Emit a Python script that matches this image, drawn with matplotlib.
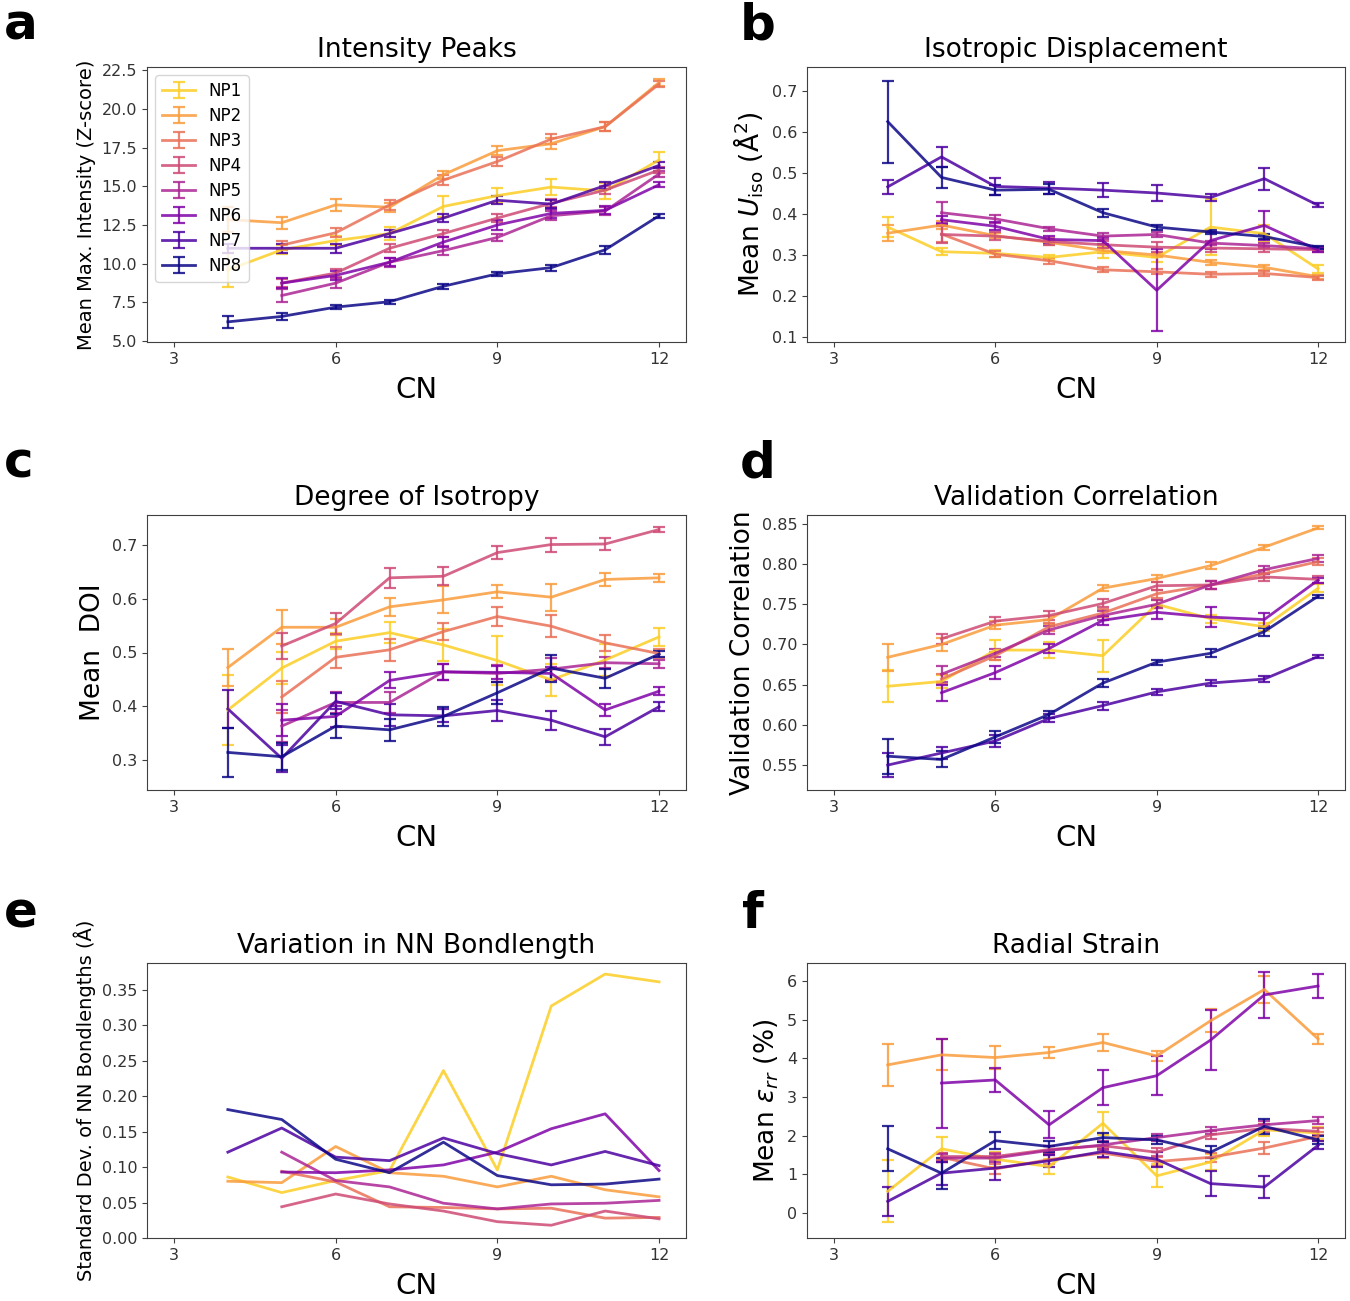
import numpy as np
import matplotlib
matplotlib.use("Agg")
import matplotlib.pyplot as plt

nan = np.nan
cn = [4, 5, 6, 7, 8, 9, 10, 11, 12]
labels = ["NP1", "NP2", "NP3", "NP4", "NP5", "NP6", "NP7", "NP8"]

# ---- a: Intensity Peaks ----
a_mean = [
    [9.6, 10.9, 11.5, 11.95, 13.7, 14.4, 14.95, 14.7, 16.7],
    [12.85, 12.65, 13.8, 13.65, 15.75, 17.3, 17.75, 18.85, 21.7],
    [nan, 11.2, 12.0, 13.8, 15.4, 16.6, 18.05, 18.85, 21.6],
    [nan, 8.75, 9.4, 11.0, 11.95, 12.95, 13.9, 14.75, 16.05],
    [nan, 7.95, 8.75, 10.1, 10.85, 11.7, 13.1, 13.4, 15.8],
    [nan, 8.75, 9.25, 10.1, 11.4, 12.5, 13.25, 13.45, 15.1],
    [11.0, 11.0, 11.0, 11.95, 12.95, 14.1, 13.85, 15.05, 16.35],
    [6.25, 6.6, 7.2, 7.55, 8.55, 9.35, 9.75, 10.9, 13.1],
]
a_err = [
    [1.1, 0.3, 0.3, 0.4, 0.65, 0.5, 0.5, 0.5, 0.5],
    [0.8, 0.4, 0.4, 0.3, 0.25, 0.3, 0.35, 0.3, 0.2],
    [nan, 0.3, 0.3, 0.3, 0.3, 0.3, 0.3, 0.3, 0.2],
    [nan, 0.25, 0.25, 0.25, 0.25, 0.25, 0.25, 0.25, 0.2],
    [nan, 0.4, 0.3, 0.3, 0.3, 0.25, 0.3, 0.25, 0.2],
    [nan, 0.3, 0.3, 0.25, 0.3, 0.3, 0.3, 0.25, 0.15],
    [0.3, 0.3, 0.3, 0.25, 0.25, 0.25, 0.25, 0.25, 0.2],
    [0.4, 0.25, 0.15, 0.12, 0.15, 0.15, 0.2, 0.25, 0.12],
]

# ---- b: Isotropic Displacement ----
b_mean = [
    [0.368, 0.308, 0.304, 0.294, 0.308, 0.294, 0.368, 0.352, 0.266],
    [0.353, 0.373, 0.347, 0.331, 0.311, 0.300, 0.282, 0.270, 0.247],
    [nan, 0.351, 0.302, 0.286, 0.264, 0.259, 0.253, 0.255, 0.245],
    [nan, 0.350, 0.346, 0.333, 0.325, 0.319, 0.317, 0.315, 0.313],
    [nan, 0.403, 0.388, 0.364, 0.346, 0.350, 0.329, 0.323, 0.315],
    [nan, 0.386, 0.370, 0.338, 0.335, 0.214, 0.335, 0.372, 0.312],
    [0.466, 0.539, 0.467, 0.463, 0.458, 0.451, 0.440, 0.486, 0.421],
    [0.625, 0.489, 0.458, 0.460, 0.403, 0.368, 0.356, 0.345, 0.319],
]
b_err = [
    [0.025, 0.008, 0.008, 0.006, 0.015, 0.010, 0.068, 0.020, 0.010],
    [0.020, 0.010, 0.006, 0.006, 0.006, 0.006, 0.006, 0.006, 0.005],
    [nan, 0.020, 0.007, 0.007, 0.006, 0.006, 0.006, 0.006, 0.005],
    [nan, 0.020, 0.010, 0.008, 0.008, 0.012, 0.010, 0.008, 0.006],
    [nan, 0.025, 0.010, 0.005, 0.007, 0.005, 0.005, 0.005, 0.004],
    [nan, 0.010, 0.010, 0.008, 0.008, 0.100, 0.020, 0.035, 0.005],
    [0.017, 0.025, 0.020, 0.015, 0.017, 0.020, 0.008, 0.027, 0.005],
    [0.100, 0.025, 0.012, 0.012, 0.010, 0.006, 0.006, 0.006, 0.004],
]

# ---- c: Degree of Isotropy ----
c_mean = [
    [0.393, 0.471, 0.521, 0.537, 0.514, 0.485, 0.449, 0.486, 0.529],
    [0.472, 0.547, 0.547, 0.585, 0.598, 0.613, 0.603, 0.636, 0.639],
    [nan, 0.417, 0.491, 0.505, 0.539, 0.567, 0.549, 0.518, 0.498],
    [nan, 0.512, 0.554, 0.639, 0.642, 0.686, 0.701, 0.702, 0.729],
    [nan, 0.363, 0.407, 0.407, 0.464, 0.461, 0.469, 0.481, 0.479],
    [nan, 0.374, 0.381, 0.448, 0.464, 0.463, 0.461, 0.393, 0.428],
    [0.395, 0.303, 0.409, 0.384, 0.382, 0.392, 0.374, 0.343, 0.399],
    [0.314, 0.306, 0.363, 0.356, 0.381, 0.425, 0.471, 0.452, 0.497],
]
c_err = [
    [0.065, 0.030, 0.015, 0.020, 0.030, 0.045, 0.030, 0.030, 0.017],
    [0.035, 0.032, 0.015, 0.017, 0.025, 0.012, 0.025, 0.012, 0.007],
    [nan, 0.030, 0.020, 0.020, 0.015, 0.018, 0.020, 0.015, 0.008],
    [nan, 0.025, 0.020, 0.018, 0.017, 0.012, 0.013, 0.012, 0.005],
    [nan, 0.030, 0.020, 0.020, 0.015, 0.015, 0.020, 0.010, 0.007],
    [nan, 0.030, 0.020, 0.015, 0.015, 0.012, 0.012, 0.012, 0.007],
    [0.035, 0.025, 0.015, 0.020, 0.012, 0.020, 0.018, 0.015, 0.008],
    [0.045, 0.025, 0.022, 0.020, 0.017, 0.020, 0.025, 0.018, 0.005],
]

# ---- d: Validation Correlation ----
d_mean = [
    [0.648, 0.654, 0.693, 0.693, 0.686, 0.750, 0.732, 0.722, 0.770],
    [0.684, 0.700, 0.724, 0.731, 0.770, 0.782, 0.798, 0.821, 0.845],
    [nan, 0.657, 0.686, 0.722, 0.739, 0.763, 0.774, 0.788, 0.803],
    [nan, 0.707, 0.729, 0.736, 0.751, 0.773, 0.774, 0.784, 0.781],
    [nan, 0.663, 0.689, 0.718, 0.736, 0.750, 0.774, 0.793, 0.807],
    [nan, 0.640, 0.665, 0.695, 0.730, 0.740, 0.734, 0.731, 0.780],
    [0.550, 0.565, 0.580, 0.608, 0.624, 0.641, 0.652, 0.657, 0.685],
    [0.561, 0.557, 0.585, 0.613, 0.652, 0.678, 0.689, 0.716, 0.760],
]
d_err = [
    [0.020, 0.008, 0.012, 0.010, 0.020, 0.005, 0.005, 0.005, 0.005],
    [0.017, 0.008, 0.005, 0.005, 0.004, 0.004, 0.004, 0.003, 0.002],
    [nan, 0.006, 0.005, 0.005, 0.005, 0.005, 0.005, 0.005, 0.004],
    [nan, 0.006, 0.005, 0.005, 0.005, 0.005, 0.005, 0.005, 0.004],
    [nan, 0.010, 0.005, 0.005, 0.005, 0.005, 0.005, 0.005, 0.004],
    [nan, 0.010, 0.008, 0.006, 0.006, 0.008, 0.012, 0.008, 0.003],
    [0.015, 0.008, 0.007, 0.005, 0.005, 0.004, 0.004, 0.004, 0.002],
    [0.022, 0.010, 0.007, 0.004, 0.005, 0.003, 0.005, 0.005, 0.002],
]

# ---- e: Variation in NN Bondlength ----
e_mean = [
    [0.086, 0.064, 0.081, 0.095, 0.236, 0.096, 0.327, 0.372, 0.361],
    [0.080, 0.078, 0.129, 0.092, 0.087, 0.072, 0.087, 0.068, 0.058],
    [nan, 0.094, 0.079, 0.044, 0.043, 0.041, 0.042, 0.028, 0.029],
    [nan, 0.044, 0.062, 0.048, 0.038, 0.023, 0.018, 0.038, 0.027],
    [nan, 0.121, 0.081, 0.072, 0.049, 0.041, 0.048, 0.049, 0.053],
    [nan, 0.093, 0.092, 0.096, 0.103, 0.121, 0.154, 0.175, 0.095],
    [0.121, 0.155, 0.114, 0.109, 0.141, 0.119, 0.103, 0.122, 0.102],
    [0.181, 0.167, 0.111, 0.092, 0.135, 0.088, 0.075, 0.076, 0.083],
]

# ---- f: Radial Strain ----
f_mean = [
    [0.56, 1.66, 1.39, 1.20, 2.32, 0.96, 1.32, 2.15, 2.07],
    [3.83, 4.09, 4.02, 4.15, 4.41, 4.06, 4.97, 5.78, 4.50],
    [nan, 1.44, 1.14, 1.38, 1.55, 1.33, 1.44, 1.68, 1.98],
    [nan, 1.46, 1.46, 1.64, 1.74, 1.57, 2.02, 2.19, 2.11],
    [nan, 1.42, 1.42, 1.62, 1.76, 1.95, 2.13, 2.28, 2.39],
    [nan, 3.36, 3.44, 2.28, 3.24, 3.55, 4.47, 5.64, 5.87],
    [0.30, 1.03, 1.16, 1.35, 1.59, 1.39, 0.76, 0.67, 1.75],
    [1.66, 1.03, 1.87, 1.72, 1.95, 1.89, 1.57, 2.24, 1.89],
]
f_err = [
    [0.80, 0.30, 0.20, 0.20, 0.30, 0.30, 0.20, 0.15, 0.15],
    [0.55, 0.40, 0.30, 0.15, 0.22, 0.12, 0.30, 0.35, 0.12],
    [nan, 0.12, 0.12, 0.12, 0.12, 0.12, 0.12, 0.15, 0.12],
    [nan, 0.10, 0.10, 0.10, 0.10, 0.10, 0.10, 0.10, 0.10],
    [nan, 0.10, 0.10, 0.10, 0.10, 0.10, 0.10, 0.10, 0.10],
    [nan, 1.15, 0.32, 0.35, 0.45, 0.50, 0.78, 0.60, 0.30],
    [0.38, 0.30, 0.30, 0.15, 0.15, 0.20, 0.33, 0.28, 0.10],
    [0.58, 0.40, 0.22, 0.15, 0.12, 0.10, 0.15, 0.20, 0.10],
]

colors = plt.cm.plasma(np.linspace(0.9, 0.0, 8))

W, H = 1350, 1301
fig = plt.figure(figsize=(W / 100, H / 100), dpi=100)

def box(l, t, r, b):
    return [l / W, 1 - b / H, (r - l) / W, (b - t) / H]

ax_a = fig.add_axes(box(147, 67, 686, 342))
ax_b = fig.add_axes(box(807, 67, 1345, 342))
ax_c = fig.add_axes(box(147, 515, 686, 790))
ax_d = fig.add_axes(box(807, 515, 1345, 790))
ax_e = fig.add_axes(box(147, 963, 686, 1238))
ax_f = fig.add_axes(box(807, 963, 1345, 1238))

grey = "0.25"

def style(ax, title, ylabel, ylim, yfs):
    ax.set_xlim(2.5, 12.5)
    ax.set_xticks([3, 6, 9, 12])
    ax.set_ylim(*ylim)
    ax.set_title(title, fontsize=19, pad=7)
    ax.set_xlabel("CN", fontsize=21, labelpad=7)
    ax.set_ylabel(ylabel, fontsize=yfs)
    ax.tick_params(labelsize=11.5, colors=grey, labelcolor="0.2")
    for s in ax.spines.values():
        s.set_color(grey)

def draw_err(ax, means, errs):
    for i in range(8):
        ax.errorbar(cn, means[i], yerr=errs[i], color=colors[i], lw=2,
                    elinewidth=1.6, capsize=4, capthick=1.6, alpha=0.85,
                    label=labels[i])

draw_err(ax_a, a_mean, a_err)
style(ax_a, "Intensity Peaks", "Mean Max. Intensity (Z-score)", (4.95, 22.7), 14)
ax_a.set_yticks([5.0, 7.5, 10.0, 12.5, 15.0, 17.5, 20.0, 22.5])
ax_a.legend(loc="upper left", fontsize=12, borderaxespad=0.5, labelspacing=0.42)

draw_err(ax_b, b_mean, b_err)
style(ax_b, "Isotropic Displacement", r"Mean $U_{\rm iso}$ (Å$^2$)", (0.088, 0.758), 19)
ax_b.set_yticks([0.1, 0.2, 0.3, 0.4, 0.5, 0.6, 0.7])

draw_err(ax_c, c_mean, c_err)
style(ax_c, "Degree of Isotropy", "Mean  DOI", (0.244, 0.756), 19)
ax_c.set_yticks([0.3, 0.4, 0.5, 0.6, 0.7])

draw_err(ax_d, d_mean, d_err)
style(ax_d, "Validation Correlation", "Validation Correlation", (0.519, 0.861), 19)
ax_d.set_yticks([0.55, 0.60, 0.65, 0.70, 0.75, 0.80, 0.85])

for i in range(8):
    ax_e.plot(cn, e_mean[i], color=colors[i], lw=2, alpha=0.85, label=labels[i])
style(ax_e, "Variation in NN Bondlength", "Standard Dev. of NN Bondlengths (Å)", (0.0, 0.3876), 14)
ax_e.set_yticks([0.0, 0.05, 0.10, 0.15, 0.20, 0.25, 0.30, 0.35])

draw_err(ax_f, f_mean, f_err)
style(ax_f, "Radial Strain", r"Mean $\varepsilon_{rr}$ (%)", (-0.647, 6.465), 19)
ax_f.set_yticks([0, 1, 2, 3, 4, 5, 6])

for txt, x, y in [("a", 4, 40), ("b", 740, 40), ("c", 4, 478),
                  ("d", 740, 478), ("e", 4, 928), ("f", 742, 928)]:
    fig.text(x / W, 1 - y / H, txt, fontsize=36, fontweight="heavy",
             ha="left", va="baseline", color="black")

fig.savefig("out.png", dpi=100)
